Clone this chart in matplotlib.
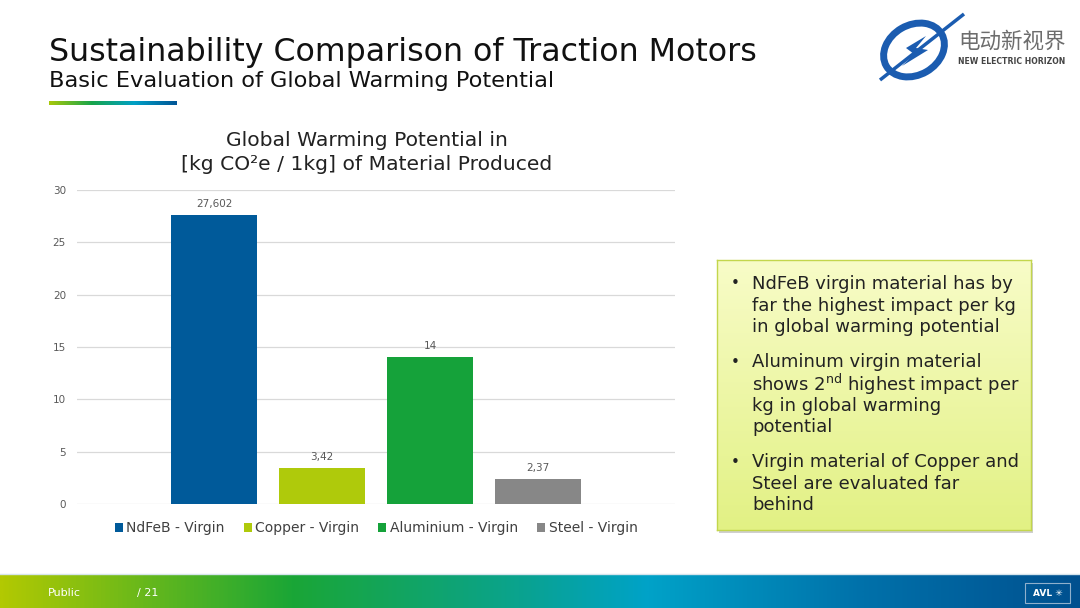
import numpy as np
import matplotlib
matplotlib.use("Agg")
import matplotlib.pyplot as plt
from matplotlib.colors import LinearSegmentedColormap
from matplotlib.patches import Ellipse, Rectangle, Polygon

# chart data
materials = ["NdFeB - Virgin", "Copper - Virgin", "Aluminium - Virgin", "Steel - Virgin"]
gwp_values = [27.602, 3.42, 14, 2.37]
bar_colors = ["#005a9a", "#afca0b", "#15a23a", "#878787"]
y_ticks = [0, 5, 10, 15, 20, 25, 30]

bullets = [
    ["NdFeB virgin material has by", "far the highest impact per kg", "in global warming potential"],
    ["Aluminum virgin material", "shows 2$^{\\mathrm{nd}}$ highest impact per", "kg in global warming", "potential"],
    ["Virgin material of Copper and", "Steel are evaluated far", "behind"],
]

W, H = 1080, 608
plt.rcParams['font.family'] = ['DejaVu Sans']
plt.rcParams['mathtext.default'] = 'regular'

fig = plt.figure(figsize=(W / 100, H / 100), dpi=100)
fig.patch.set_facecolor("white")


def fx(x):
    return x / W


def fy(y):
    return 1 - y / H


def px_axes(x0, y0, x1, y1, **kw):
    return fig.add_axes([fx(x0), fy(y1), (x1 - x0) / W, (y1 - y0) / H], **kw)


# titles
fig.text(fx(49), fy(52), "Sustainability Comparison of Traction Motors", fontsize=22.8,
         color="#111111", va="center", ha="left")
fig.text(fx(49), fy(81), "Basic Evaluation of Global Warming Potential", fontsize=16.2,
         color="#111111", va="center", ha="left")

# small gradient underline
grad = LinearSegmentedColormap.from_list("under", ["#a8c80a", "#18a54a", "#00a0c6", "#005596"])
ax_u = px_axes(49, 101, 177, 105)
ax_u.imshow(np.linspace(0, 1, 256)[None, :], aspect="auto", cmap=grad)
ax_u.axis("off")

# chart
ax = px_axes(77, 190, 675, 504)
x = np.arange(len(materials))
bars = ax.bar(x, gwp_values, width=0.79, color=bar_colors, label=materials, zorder=3)
for xi, v in zip(x, gwp_values):
    ax.text(xi, v + 0.6, ("%g" % v).replace(".", ","), ha="center", va="bottom",
            fontsize=7.5, color="#595959")
ax.set_xlim(-1.27, len(materials) - 1 + 1.27)
ax.set_ylim(0, 30)
ax.set_yticks(y_ticks)
ax.set_yticklabels([str(t) for t in y_ticks], fontsize=7.5, color="#595959")
ax.set_xticks([])
ax.tick_params(axis="y", length=0, pad=8)
ax.grid(axis="y", color="#d9d9d9", linewidth=0.9, zorder=0)
for s in ax.spines.values():
    s.set_visible(False)
ax.set_facecolor("none")
ax.legend(loc="upper center", bbox_to_anchor=(0.5, -0.015), ncol=4, frameon=False,
          fontsize=10, labelcolor="#404040", handlelength=0.6, handleheight=0.6,
          handletextpad=0.25, columnspacing=1.35)

fig.text(fx(367), fy(141), "Global Warming Potential in", fontsize=14.6, color="#222222",
         ha="center", va="center")
fig.text(fx(367), fy(165), "[kg CO\u00b2e / 1kg] of Material Produced", fontsize=14.6,
         color="#222222", ha="center", va="center")

# text box with shadow
shadow = Rectangle((fx(719), fy(533)), (1031 - 717) / W, (530 - 260) / H,
                   transform=fig.transFigure, facecolor="#cfcfcf", edgecolor="none", zorder=-5)
fig.patches.append(shadow)
box_cmap = LinearSegmentedColormap.from_list("box", ["#f8fcc8", "#e2f184"])
ax_b = px_axes(717, 260, 1031, 530)
ax_b.set_zorder(2)
ax_b.imshow(np.linspace(0, 1, 256)[:, None], aspect="auto", cmap=box_cmap)
ax_b.set_xticks([])
ax_b.set_yticks([])
for s in ax_b.spines.values():
    s.set_color("#c3d64c")
    s.set_linewidth(1.0)

line_y = 284
for group in bullets:
    fig.text(fx(731), fy(line_y), "\u2022", fontsize=11, color="#222222", va="center", zorder=5)
    for line in group:
        fig.text(fx(752), fy(line_y), line, fontsize=13, color="#222222", va="center", zorder=5)
        line_y += 21.6
    line_y += 13.5

# footer band
foot_cmap = LinearSegmentedColormap.from_list(
    "foot", [(0, "#b2c902"), (0.27, "#1aa636"), (0.48, "#0aa38e"), (0.6, "#00a2c8"),
             (0.8, "#0071aa"), (1, "#00508f")])
ax_f = px_axes(0, 575, W, H)
ax_f.imshow(np.linspace(0, 1, 512)[None, :], aspect="auto", cmap=foot_cmap)
ax_f.axis("off")
fig.add_artist(plt.Line2D([0, 1], [fy(574), fy(574)], transform=fig.transFigure,
                          color="#d6e4ec", linewidth=1))
fig.text(fx(48), fy(593), "Public", fontsize=8, color="white", va="center")
fig.text(fx(137), fy(593), "/ 21", fontsize=8, color="white", va="center")
fig.add_artist(Rectangle((fx(1025), fy(603)), 45 / W, 20 / H, transform=fig.transFigure,
                         facecolor="none", edgecolor="#8fb0cc", linewidth=0.8))
fig.text(fx(1047.5), fy(593), "AVL \u2733", fontsize=6.5, color="white", va="center",
         ha="center", fontweight="bold")

# logo
ax_l = px_axes(876, 10, 966, 82)
ax_l.set_xlim(0, 90)
ax_l.set_ylim(72, 0)
ax_l.axis("off")
ax_l.add_patch(Ellipse((38, 40), 64, 50, angle=-30, facecolor="none", edgecolor="#1b5cb0",
                       linewidth=5))
ax_l.add_patch(Polygon([[30, 38], [50, 26], [40, 38], [52, 40], [26, 56], [38, 44]],
                       closed=True, facecolor="#1b5cb0"))
ax_l.plot([4, 88], [70, 4], color="#1b5cb0", linewidth=2.5, solid_capstyle="butt")
fig.text(fx(958), fy(42), "电动新视界", fontsize=15.5, color="#6d6d6d", va="center",
         family=["Noto Sans CJK SC", "DejaVu Sans"])
fig.text(fx(958), fy(61), "NEW ELECTRIC HORIZON", fontsize=5.6, color="#444444", va="center",
         fontweight="bold")

fig.savefig("out.png", dpi=100)
